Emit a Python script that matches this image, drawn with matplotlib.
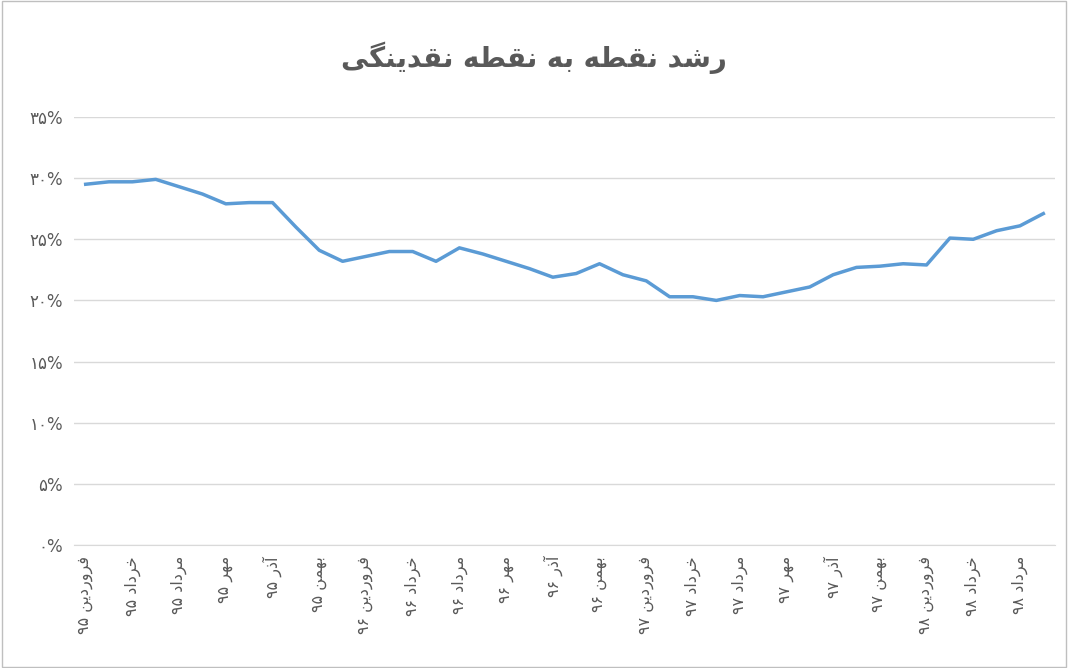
import matplotlib
matplotlib.use("Agg")
from matplotlib import pyplot as plt

# month-by-month growth, farvardin 95 .. shahrivar 98 (percent)
growth = [29.5, 29.7, 29.7, 29.9, 29.3, 28.7, 27.9, 28.0, 28.0, 26.0,
          24.1, 23.2, 23.6, 24.0, 24.0, 23.2, 24.3, 23.8, 23.2, 22.6,
          21.9, 22.2, 23.0, 22.1, 21.6, 20.3, 20.3, 20.0, 20.4, 20.3,
          20.7, 21.1, 22.1, 22.7, 22.8, 23.0, 22.9, 25.1, 25.0, 25.7,
          26.1, 27.1]
tick_months = ["فروردین", "خرداد", "مرداد", "مهر", "آذر", "بهمن"]
tick_years = ["۹۵", "۹۶", "۹۷", "۹۸"]
title = "رشد نقطه به نقطه نقدینگی"
y_ticks = [0, 5, 10, 15, 20, 25, 30, 35]

# minimal persian shaping: isolated, final, initial, medial
FORMS = {
    "ا": (0xFE8D, 0xFE8E, None, None), "آ": (0xFE81, 0xFE82, None, None),
    "ب": (0xFE8F, 0xFE90, 0xFE91, 0xFE92), "خ": (0xFEA5, 0xFEA6, 0xFEA7, 0xFEA8),
    "د": (0xFEA9, 0xFEAA, None, None), "ذ": (0xFEAB, 0xFEAC, None, None),
    "ر": (0xFEAD, 0xFEAE, None, None), "ش": (0xFEB5, 0xFEB6, 0xFEB7, 0xFEB8),
    "ط": (0xFEC1, 0xFEC2, 0xFEC3, 0xFEC4), "ف": (0xFED1, 0xFED2, 0xFED3, 0xFED4),
    "ق": (0xFED5, 0xFED6, 0xFED7, 0xFED8), "م": (0xFEE1, 0xFEE2, 0xFEE3, 0xFEE4),
    "ن": (0xFEE5, 0xFEE6, 0xFEE7, 0xFEE8), "ه": (0xFEE9, 0xFEEA, 0xFEEB, 0xFEEC),
    "و": (0xFEED, 0xFEEE, None, None), "ی": (0xFBFC, 0xFBFD, 0xFBFE, 0xFBFF),
    "گ": (0xFB92, 0xFB93, 0xFB94, 0xFB95),
}


def shape_word(w):
    out = []
    for i, c in enumerate(w):
        f = FORMS[c]
        prev_joins = i > 0 and FORMS[w[i - 1]][2] is not None
        next_ok = i < len(w) - 1 and f[2] is not None
        if prev_joins and next_ok:
            code = f[3]
        elif prev_joins:
            code = f[1]
        elif next_ok:
            code = f[2]
        else:
            code = f[0]
        out.append(chr(code))
    return "".join(out)[::-1]


def rtl(text):
    return " ".join(shape_word(w) for w in text.split(" ")[::-1])


labels = []
for i in range(0, len(growth), 2):
    month = tick_months[(i // 2) % 6]
    year = tick_years[i // 12]
    labels.append(year + " " + shape_word(month))

fa = lambda n: "".join("۰۱۲۳۴۵۶۷۸۹"[int(d)] for d in str(n))

plt.rcParams["font.family"] = ["DejaVu Sans"]
fig = plt.figure(figsize=(10.68, 6.68), dpi=100)
ax = fig.add_axes([74 / 1068, 123 / 668, 981 / 1068, 428 / 668])
fig.patches.append(plt.Rectangle((0.002, 0.002), 0.996, 0.996, transform=fig.transFigure,
                                 fill=False, edgecolor="#bfbfbf", lw=1))

x = list(range(len(growth)))
ax.plot(x, growth, color="#5B9BD5", lw=2.5, solid_joinstyle="round")
ax.set_xlim(-0.5, len(growth) - 0.5)
ax.set_ylim(0, 35)
ax.set_yticks(y_ticks)
ax.set_yticklabels([fa(v) + "%" for v in y_ticks], fontsize=12, color="#595959")
ax.set_xticks(x[::2])
ax.set_xticklabels(labels, rotation=90, fontsize=11.5, color="#595959", va="top")
ax.tick_params(length=0, pad=8)
ax.grid(axis="y", color="#d9d9d9", lw=1)
ax.set_axisbelow(True)
for s in ["top", "right", "left"]:
    ax.spines[s].set_visible(False)
ax.spines["bottom"].set_color("#d9d9d9")
fig.text(0.5, 0.9, rtl(title), ha="center", fontsize=20, fontweight="bold", color="#595959")

fig.savefig("out.png")
